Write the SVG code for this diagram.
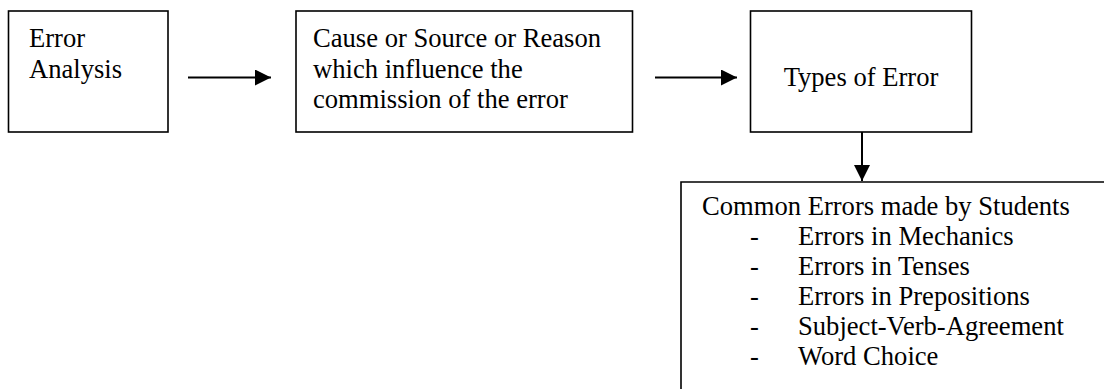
<svg xmlns="http://www.w3.org/2000/svg" width="1104" height="389" viewBox="0 0 1104 389">
<style>
.box{fill:#fff;stroke:#000;stroke-width:1.6}
.t{font-family:"Liberation Serif","Times New Roman",serif;font-size:26.6px;fill:#000}
.c{stroke:#000;stroke-width:2;fill:none}
</style>
<defs>
<marker id="ah" markerUnits="userSpaceOnUse" markerWidth="17" markerHeight="17" refX="16" refY="8" orient="auto">
<path d="M0,0 L16,8 L0,16 Z" fill="#000"/>
</marker>
</defs>
<rect width="1104" height="389" fill="#fff"/>
<g id="connectors">
<line class="c" x1="188" y1="77.5" x2="271" y2="77.5" marker-end="url(#ah)"/>
<line class="c" x1="655" y1="77.5" x2="737" y2="77.5" marker-end="url(#ah)"/>
<line class="c" x1="862" y1="132" x2="862" y2="181" marker-end="url(#ah)"/>
</g>
<g id="error-analysis">
<rect class="box" x="8.5" y="11" width="159.5" height="121"/>
<text class="t" x="29" y="47">Error</text>
<text class="t" x="29" y="77.5">Analysis</text>
</g>
<g id="cause">
<rect class="box" x="296" y="11" width="336.5" height="121"/>
<text class="t" x="313" y="47">Cause or Source or Reason</text>
<text class="t" x="313" y="77.5">which influence the</text>
<text class="t" x="313" y="108">commission of the error</text>
</g>
<g id="types">
<rect class="box" x="750.5" y="11" width="221" height="121"/>
<text class="t" x="861" y="86" text-anchor="middle">Types of Error</text>
</g>
<g id="common">
<path class="box" d="M681,390 V182 H1105"/>
<text class="t" x="702" y="215">Common Errors made by Students</text>
<text class="t" x="750" y="245">-</text><text class="t" x="798" y="245">Errors in Mechanics</text>
<text class="t" x="750" y="275">-</text><text class="t" x="798" y="275">Errors in Tenses</text>
<text class="t" x="750" y="305">-</text><text class="t" x="798" y="305">Errors in Prepositions</text>
<text class="t" x="750" y="335">-</text><text class="t" x="798" y="335">Subject-Verb-Agreement</text>
<text class="t" x="750" y="365">-</text><text class="t" x="798" y="365">Word Choice</text>
</g>
</svg>
